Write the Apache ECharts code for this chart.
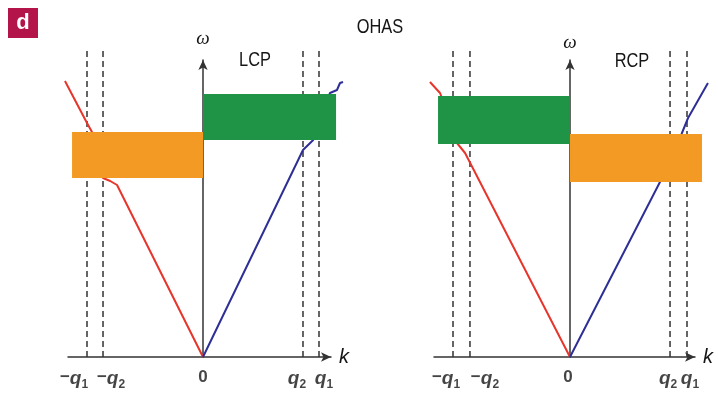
<!DOCTYPE html>
<html><head><meta charset="utf-8">
<script src="https://cdn.jsdelivr.net/npm/echarts@6/dist/echarts.min.js"></script>
<style>html,body{margin:0;padding:0;background:#fff}#c{width:718px;height:394px}</style>
</head><body><div id="c"></div>
<script>
// ---- data ----
const tickLabels = ['−q1', '−q2', '0', 'q2', 'q1'];
const leftTicks = [-1, -0.862, 0, 0.862, 1];
const rightTicks = [-1, -0.855, 0, 0.855, 1];
const leftRed = [[-1.19, 2.76], [-1.0, 2.34], [-0.957, 2.25], [-0.90, 2.02], [-0.862, 1.79], [-0.80, 1.76], [-0.741, 1.72], [0, 0]];
const leftBlue = [[0, 0], [0.862, 2.07], [0.95, 2.17], [1.01, 2.40], [1.095, 2.64], [1.155, 2.67], [1.181, 2.74], [1.207, 2.75]];
const rightRed = [[-1.197, 2.75], [-1.111, 2.64], [-1.03, 2.40], [-0.966, 2.14], [-0.897, 2.04], [0, 0]];
const rightBlue = [[0, 0], [0.769, 1.75], [0.88, 2.0], [0.957, 2.24], [1.009, 2.39], [1.179, 2.74]];
const leftGreen = [0, 1.147, 2.17, 2.63];
const leftOrange = [-1.129, 0, 1.79, 2.25];
const rightGreen = [-1.128, 0, 2.13, 2.61];
const rightOrange = [0, 1.128, 1.75, 2.23];
const dashTop = 3.09;
const panelTitles = ['LCP', 'RCP'];
const mainTitle = 'OHAS';

// ---- layout / style ----
const AX = '#333';
const SANS = '"Liberation Sans", Arial, sans-serif';
const RED = '#e8352b', BLUE = '#2d2f96', GREEN = '#1f9447', ORANGE = '#f39a24';
const TXT = '#151515';
const leftShift = [-13, 8, 0, -6, 5];
const rightShift = [-7, 15, -2, -2, 3];
// panel geometry: origin px, px per k unit
const P = [
  {ox: 203, s: 116, axL: 68, axR: 331},
  {ox: 570, s: 117, axL: 434, axR: 695}
];
const TOP = 60, BASE = 357, YMAX = 2.97;

const rich = {
  m: {fontFamily: SANS, fontSize: 17, fontWeight: 'bold', color: TXT, lineHeight: 21, verticalAlign: 'top'},
  z: {fontFamily: SANS, fontSize: 17, fontWeight: 'bold', color: TXT, lineHeight: 21, verticalAlign: 'top'},
  q: {fontFamily: SANS, fontSize: 19, fontWeight: 'bold', fontStyle: 'italic', color: TXT, lineHeight: 21, verticalAlign: 'top'},
  s: {fontFamily: SANS, fontSize: 12, fontWeight: 'bold', color: TXT, lineHeight: 12, padding: [10, 0, 0, 0], verticalAlign: 'top'}
};
function richText(str) {
  if (str === '0') return '{z|0}';
  let out = '';
  let s = str;
  if (s[0] === '−') { out += '{m|−}'; s = s.slice(1); }
  out += '{q|q}{s|' + s.slice(1) + '}';
  return out;
}

const grids = [], xAxes = [], yAxes = [], series = [];
P.forEach((p, i) => {
  const w = p.axR - p.axL;
  // axis grid (index 2i), data grid (index 2i+1)
  grids.push({left: p.axL, top: TOP, width: w, height: BASE - TOP});
  const dl = p.axL - 40, dr = Math.min(p.axR + 30, 716);
  grids.push({left: dl, top: TOP, width: dr - dl, height: BASE - TOP});
  xAxes.push({
    type: 'value', gridIndex: 2 * i, min: (p.axL - p.ox) / p.s, max: (p.axR - p.ox) / p.s,
    axisLine: {onZero: true, symbol: ['none', 'arrow'], symbolSize: [7, 10], lineStyle: {color: AX, width: 1.5}},
    axisTick: {show: false}, splitLine: {show: false}, axisLabel: {show: false},
    name: 'k', nameLocation: 'end', nameGap: 8,
    nameTextStyle: {fontFamily: SANS, fontSize: 20, fontStyle: 'italic', color: TXT}
  });
  xAxes.push({
    type: 'value', gridIndex: 2 * i + 1, min: (dl - p.ox) / p.s, max: (dr - p.ox) / p.s, show: false
  });
  yAxes.push({
    type: 'value', gridIndex: 2 * i, min: 0, max: YMAX,
    axisLine: {onZero: true, symbol: ['none', 'arrow'], symbolSize: [7, 10], lineStyle: {color: AX, width: 1.5}},
    axisTick: {show: false}, splitLine: {show: false}, axisLabel: {show: false},
    name: 'ω', nameLocation: 'end', nameGap: i === 0 ? 12 : 8,
    nameTextStyle: {fontFamily: '"Liberation Serif", serif', fontSize: 19, fontStyle: 'italic', color: TXT}
  });
  yAxes.push({type: 'value', gridIndex: 2 * i + 1, min: 0, max: YMAX, show: false});
});

function curve(gi, data, color) {
  return {type: 'line', xAxisIndex: gi, yAxisIndex: gi, data, showSymbol: false, clip: false, smooth: false,
    lineStyle: {color, width: 2}, z: 3, silent: true};
}
function dashes(gi, ticks) {
  return ticks.filter(t => t !== 0).map(t => ({
    type: 'line', xAxisIndex: gi, yAxisIndex: gi, data: [[t, 0], [t, dashTop]], showSymbol: false, clip: false,
    lineStyle: {color: '#333', width: 1.5, type: [6, 4]}, z: 2, silent: true
  }));
}
function box(gi, d, color) {
  return {
    type: 'custom', xAxisIndex: gi, yAxisIndex: gi, data: [d], z: 5, silent: true, clip: false,
    encode: {x: [0, 1], y: [2, 3]},
    renderItem: (params, api) => {
      const p0 = api.coord([api.value(0), api.value(3)]);
      const p1 = api.coord([api.value(1), api.value(2)]);
      return {type: 'rect', shape: {x: p0[0], y: p0[1], width: p1[0] - p0[0], height: p1[1] - p0[1]}, style: {fill: color}};
    }
  };
}
function tickSeries(gi, ticks, shifts) {
  return {
    type: 'scatter', xAxisIndex: gi, yAxisIndex: gi, symbolSize: 0, silent: true, z: 6,
    data: ticks.map((t, i) => ({value: [t, 0], label: {offset: [shifts[i], 0], formatter: richText(tickLabels[i])}})),
    label: {show: true, position: 'bottom', distance: 12, rich}
  };
}

series.push(
  ...dashes(1, leftTicks),
  ...dashes(3, rightTicks),
  curve(1, leftRed, RED),
  curve(1, leftBlue, BLUE),
  curve(3, rightRed, RED),
  curve(3, rightBlue, BLUE),
  box(1, leftGreen, GREEN),
  box(1, leftOrange, ORANGE),
  box(3, rightGreen, GREEN),
  box(3, rightOrange, ORANGE),
  tickSeries(0, leftTicks, leftShift),
  tickSeries(2, rightTicks, rightShift)
);

function title(text, x, y) {
  return {type: 'text', x, y, scaleX: 0.82, style: {text, fill: TXT, font: '20px ' + SANS, textAlign: 'center', textVerticalAlign: 'middle'}};
}

const chart = echarts.init(document.getElementById('c'), null, {renderer: 'canvas'});
chart.setOption({
  animation: false,
  backgroundColor: '#fff',
  grid: grids, xAxis: xAxes, yAxis: yAxes,
  graphic: [
    {type: 'rect', left: 8, top: 8, shape: {width: 30, height: 30}, style: {fill: '#b3154b'}},
    {type: 'text', x: 23, y: 23, style: {text: 'd', fill: '#fff', font: 'bold 22px ' + SANS, textAlign: 'center', textVerticalAlign: 'middle'}},
    title(mainTitle, 380, 27),
    title(panelTitles[0], 255, 60),
    title(panelTitles[1], 632, 61)
  ],
  series
});
</script></body></html>
